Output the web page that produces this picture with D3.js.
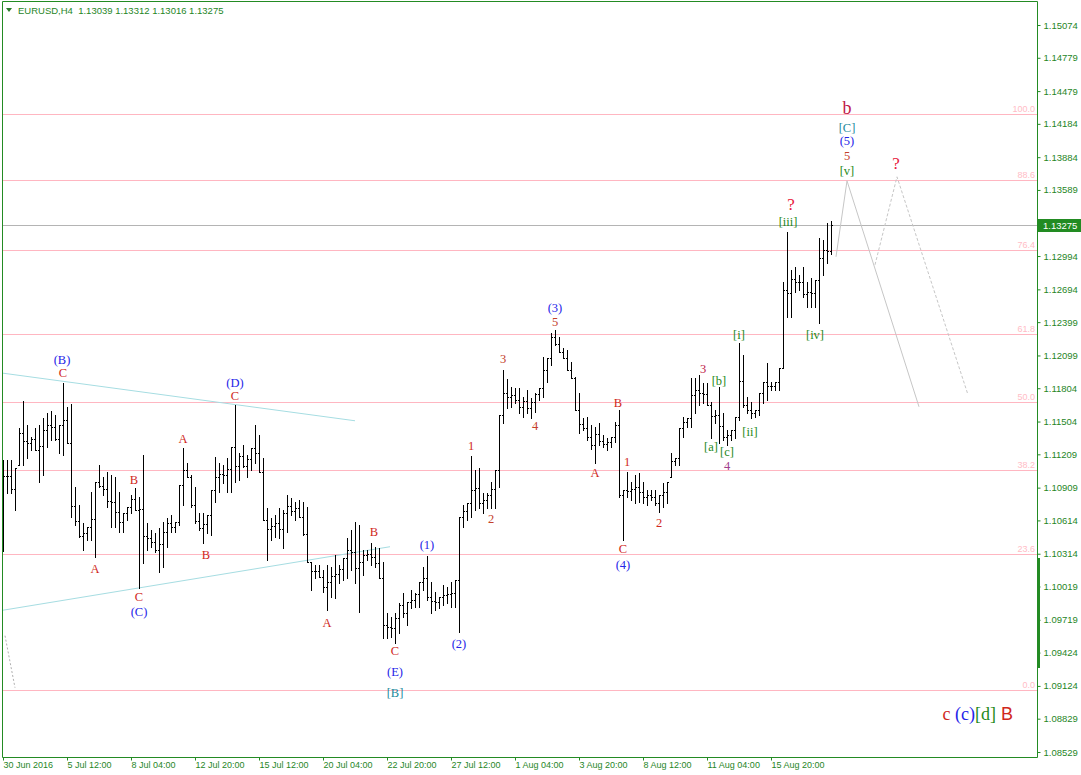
<!DOCTYPE html>
<html><head><meta charset="utf-8">
<script src="https://cdn.jsdelivr.net/npm/d3@7/dist/d3.min.js"></script>
<style>
html,body{margin:0;padding:0;background:#fff;}
svg{display:block;}
</style></head><body>
<svg id="c" width="1081" height="775"></svg>
<script>
const symbolTitle = "EURUSD,H4";
const lastQuote = [1.13039, 1.13312, 1.13016, 1.13275];

const opens = [1.10440,1.11016,1.11016,1.10899,1.11115,1.11403,1.11331,1.11313,1.11349,1.11250,1.11286,1.11430,1.11475,1.11457,1.11349,1.11475,1.11520,1.11313,1.10746,1.10611,1.10476,1.10503,1.10557,1.10629,1.10962,1.10926,1.10899,1.10791,1.10782,1.10692,1.10602,1.10683,1.10737,1.10809,1.10710,1.10719,1.10476,1.10458,1.10422,1.10350,1.10404,1.10512,1.10593,1.10557,1.10602,1.10935,1.11070,1.11007,1.10755,1.10611,1.10548,1.10584,1.10665,1.10890,1.11007,1.11034,1.11025,1.11079,1.11277,1.11106,1.11196,1.11106,1.11169,1.11268,1.11223,1.11052,1.10620,1.10539,1.10566,1.10593,1.10539,1.10683,1.10746,1.10701,1.10728,1.10647,1.10494,1.10242,1.10161,1.10161,1.10107,1.10017,1.10062,1.10116,1.10134,1.10179,1.10278,1.10350,1.10332,1.10188,1.10242,1.10305,1.10314,1.10287,1.10233,1.10098,1.09675,1.09657,1.09648,1.09738,1.09855,1.09783,1.09882,1.09900,1.09954,1.10062,1.10098,1.09927,1.09891,1.09882,1.09927,1.09945,1.09954,1.09963,1.10080,1.10647,1.10701,1.10773,1.10890,1.10908,1.10773,1.10800,1.10845,1.10899,1.11070,1.11565,1.11763,1.11727,1.11745,1.11700,1.11637,1.11691,1.11628,1.11682,1.11754,1.11808,1.11970,1.12078,1.12267,1.12204,1.12132,1.12078,1.11970,1.11898,1.11610,1.11484,1.11448,1.11367,1.11295,1.11394,1.11331,1.11304,1.11322,1.11367,1.11475,1.10845,1.10890,1.10881,1.10899,1.10917,1.10872,1.10827,1.10845,1.10827,1.10773,1.10845,1.10872,1.11007,1.11151,1.11178,1.11448,1.11502,1.11538,1.11745,1.11790,1.11763,1.11754,1.11655,1.11556,1.11565,1.11466,1.11367,1.11385,1.11430,1.11547,1.11871,1.11655,1.11610,1.11583,1.11610,1.11763,1.11862,1.11826,1.11826,1.11862,1.11988,1.12690,1.12663,1.12789,1.12762,1.12762,1.12654,1.12672,1.12663,1.12780,1.12978,1.13050,1.13039];
const highs = [1.11160,1.11160,1.11160,1.11088,1.11448,1.11691,1.11475,1.11367,1.11448,1.11475,1.11538,1.11583,1.11601,1.11565,1.11475,1.11853,1.11637,1.11664,1.10917,1.10755,1.10593,1.10557,1.10872,1.10962,1.11115,1.11007,1.11052,1.11025,1.11007,1.10872,1.10683,1.10737,1.10845,1.10908,1.10827,1.11205,1.10593,1.10530,1.10503,1.10548,1.10602,1.10638,1.10665,1.10602,1.10935,1.11268,1.11133,1.11025,1.10917,1.10683,1.10683,1.10665,1.10890,1.11187,1.11133,1.11115,1.11178,1.11277,1.11655,1.11223,1.11295,1.11205,1.11268,1.11475,1.11385,1.11178,1.10728,1.10638,1.10665,1.10728,1.10710,1.10845,1.10818,1.10782,1.10800,1.10782,1.10737,1.10242,1.10215,1.10215,1.10170,1.10215,1.10197,1.10305,1.10215,1.10278,1.10458,1.10530,1.10602,1.10575,1.10350,1.10350,1.10413,1.10377,1.10368,1.10242,1.09783,1.09747,1.09783,1.09873,1.09963,1.09882,1.09990,1.09963,1.10062,1.10197,1.10296,1.10062,1.09972,1.09927,1.10035,1.10017,1.10062,1.10080,1.10647,1.10755,1.10773,1.11196,1.11070,1.11088,1.10863,1.10863,1.10962,1.11070,1.11565,1.11970,1.11889,1.11817,1.11808,1.11808,1.11727,1.11790,1.11718,1.11763,1.11808,1.12087,1.12078,1.12303,1.12330,1.12267,1.12168,1.12150,1.12042,1.11907,1.11763,1.11538,1.11547,1.11475,1.11457,1.11493,1.11385,1.11358,1.11367,1.11502,1.11610,1.10890,1.11052,1.10962,1.11025,1.11043,1.10962,1.10890,1.10890,1.10890,1.10845,1.10953,1.10962,1.11223,1.11178,1.11448,1.11547,1.11538,1.11898,1.11898,1.11925,1.11853,1.11853,1.11682,1.11610,1.11817,1.11583,1.11430,1.11430,1.11547,1.12213,1.12105,1.11727,1.11682,1.11610,1.11763,1.11862,1.12033,1.11862,1.11862,1.11988,1.12762,1.13212,1.12870,1.12897,1.12825,1.12897,1.12762,1.12798,1.12780,1.13158,1.13140,1.13293,1.13312];
const lows = [1.10341,1.10863,1.10863,1.10710,1.11115,1.11115,1.11178,1.11250,1.11250,1.10962,1.11025,1.11277,1.11340,1.11340,1.11223,1.11205,1.11313,1.10647,1.10575,1.10467,1.10350,1.10440,1.10440,1.10287,1.10917,1.10845,1.10737,1.10557,1.10557,1.10512,1.10512,1.10620,1.10683,1.10710,1.10008,1.10233,1.10350,1.10377,1.10332,1.10152,1.10197,1.10377,1.10512,1.10512,1.10575,1.10755,1.11007,1.10737,1.10593,1.10530,1.10413,1.10503,1.10485,1.10782,1.10872,1.10953,1.10872,1.10872,1.10962,1.10980,1.11097,1.11007,1.11070,1.11133,1.11052,1.10620,1.10260,1.10440,1.10467,1.10458,1.10368,1.10512,1.10665,1.10620,1.10647,1.10485,1.10242,1.09990,1.10098,1.10107,1.09972,1.09810,1.09927,1.09918,1.10053,1.10080,1.10098,1.10170,1.10053,1.09792,1.10125,1.10260,1.10215,1.10197,1.10098,1.09558,1.09558,1.09567,1.09513,1.09603,1.09747,1.09675,1.09828,1.09837,1.09837,1.09990,1.09900,1.09783,1.09810,1.09828,1.09855,1.09873,1.09837,1.09837,1.09612,1.10557,1.10620,1.10647,1.10710,1.10728,1.10683,1.10728,1.10728,1.10728,1.10917,1.11493,1.11628,1.11637,1.11673,1.11583,1.11547,1.11583,1.11538,1.11592,1.11700,1.11727,1.11862,1.12015,1.12195,1.12132,1.12078,1.11970,1.11898,1.11610,1.11403,1.11430,1.11340,1.11259,1.11133,1.11295,1.11277,1.11250,1.11277,1.11322,1.10827,1.10440,1.10827,1.10800,1.10773,1.10782,1.10773,1.10755,1.10800,1.10755,1.10692,1.10737,1.10773,1.11007,1.11115,1.11115,1.11367,1.11457,1.11457,1.11583,1.11655,1.11673,1.11655,1.11358,1.11493,1.11313,1.11340,1.11295,1.11340,1.11358,1.11520,1.11637,1.11583,1.11538,1.11547,1.11565,1.11673,1.11700,1.11790,1.11790,1.11790,1.11988,1.12447,1.12447,1.12672,1.12690,1.12627,1.12537,1.12537,1.12537,1.12393,1.12825,1.12933,1.13016];
const closes = [1.11016,1.11016,1.10899,1.11088,1.11403,1.11331,1.11313,1.11349,1.11250,1.11286,1.11430,1.11475,1.11457,1.11349,1.11475,1.11520,1.11313,1.10746,1.10611,1.10476,1.10503,1.10557,1.10629,1.10962,1.10926,1.10899,1.10791,1.10782,1.10692,1.10602,1.10683,1.10737,1.10809,1.10710,1.10719,1.10476,1.10458,1.10422,1.10350,1.10404,1.10512,1.10593,1.10557,1.10602,1.10935,1.11070,1.11007,1.10755,1.10611,1.10548,1.10584,1.10665,1.10890,1.11007,1.11034,1.11025,1.11079,1.11277,1.11106,1.11196,1.11106,1.11169,1.11268,1.11223,1.11052,1.10620,1.10539,1.10566,1.10593,1.10539,1.10683,1.10746,1.10701,1.10728,1.10647,1.10494,1.10242,1.10161,1.10161,1.10107,1.10017,1.10062,1.10116,1.10134,1.10179,1.10278,1.10350,1.10332,1.10188,1.10242,1.10305,1.10314,1.10287,1.10233,1.10098,1.09675,1.09657,1.09648,1.09738,1.09855,1.09783,1.09882,1.09900,1.09954,1.10062,1.10098,1.09927,1.09891,1.09882,1.09927,1.09945,1.09954,1.09963,1.10080,1.10647,1.10701,1.10773,1.10890,1.10908,1.10773,1.10800,1.10845,1.10899,1.11070,1.11565,1.11763,1.11727,1.11745,1.11700,1.11637,1.11691,1.11628,1.11682,1.11754,1.11808,1.11970,1.12078,1.12267,1.12204,1.12132,1.12078,1.11970,1.11898,1.11610,1.11484,1.11448,1.11367,1.11295,1.11394,1.11331,1.11304,1.11322,1.11367,1.11475,1.10845,1.10890,1.10881,1.10899,1.10917,1.10872,1.10827,1.10845,1.10827,1.10773,1.10845,1.10872,1.10962,1.11151,1.11178,1.11448,1.11502,1.11538,1.11745,1.11790,1.11763,1.11754,1.11655,1.11556,1.11565,1.11466,1.11367,1.11385,1.11430,1.11547,1.11871,1.11655,1.11610,1.11583,1.11610,1.11763,1.11862,1.11826,1.11826,1.11862,1.11988,1.12690,1.12663,1.12789,1.12762,1.12762,1.12654,1.12672,1.12663,1.12780,1.12978,1.13050,1.13041,1.13275];

const timeTickBars = [0,16,32,48,64,80,96,112,128,144,160,176,192];
const timeTickLabels = ["30 Jun 2016","5 Jul 12:00","8 Jul 04:00","12 Jul 20:00","15 Jul 12:00","20 Jul 04:00","22 Jul 20:00","27 Jul 12:00","1 Aug 04:00","3 Aug 20:00","8 Aug 12:00","11 Aug 04:00","15 Aug 20:00"];
const priceTicks = [1.15074,1.14779,1.14479,1.14184,1.13884,1.13589,1.12994,1.12694,1.12399,1.12099,1.11804,1.11504,1.11209,1.10909,1.10614,1.10314,1.10019,1.09719,1.09424,1.09124,1.08829,1.08529];

const fibLevels = ["0.0","23.6","38.2","50.0","61.8","76.4","88.6","100.0"];
const fibPrices = [1.09090,1.10314,1.11070,1.11682,1.12294,1.13050,1.13680,1.14274];

// wave labels: [text, bar index, price, colour key, font size]
const waveLabels = [
 ["(B)",14.75,1.12060,"blue",12.5],["C",15,1.11943,"red",12.5],
 ["(D)",58,1.11853,"blue",12.5],["C",58,1.11736,"red",12.5],
 ["A",45,1.11349,"red",12.5],["B",32.75,1.10980,"red",12.5],["A",23,1.10179,"red",12.5],
 ["B",50.75,1.10305,"red",12.5],["C",34,1.09927,"red",12.5],["(C)",34,1.09792,"blue",12.5],
 ["A",81,1.09693,"red",12.5],["B",92.75,1.10512,"red",12.5],
 ["C",98,1.09441,"red",12.5],["(E)",98,1.09252,"blue",12.5],["[B]",98,1.09063,"teal",12.5],
 ["(1)",106,1.10395,"blue",12.5],["(2)",114,1.09504,"blue",12.5],
 ["1",117,1.11286,"red",12.5],["2",122,1.10629,"brown",12.5],["3",125,1.12069,"brown",12.5],["4",133,1.11466,"brown",12.5],
 ["(3)",138,1.12528,"blue",12.5],["5",138,1.12402,"brown",12.5],
 ["B",153.75,1.11673,"red",12.5],["A",148,1.11043,"red",12.5],["1",156,1.11142,"red",12.5],
 ["C",155,1.10359,"red",12.5],["(4)",155,1.10215,"blue",12.5],["2",164,1.10593,"red",12.5],
 ["3",175,1.11979,"crimson",12.5],["[b]",179,1.11871,"green",12.5],["[a]",177,1.11277,"green",12.5],
 ["[c]",181,1.11232,"green",12.5],["4",181,1.11106,"purple",12.5],["[ii]",186.75,1.11412,"green",12.5],
 ["[i]",184,1.12285,"green",12.5],["[iii]",196.25,1.13302,"green",12.5],["?",197,1.13455,"q",17],
 ["[iv]",203,1.12285,"green",12.5],
 ["b",211,1.14328,"crimson",18],
 ["[C]",211,1.14148,"teal",12.5],["(5)",211,1.14031,"blue",12.5],["5",211,1.13896,"brown",12.5],["[v]",211,1.13761,"green",12.5],
 ["?",223.25,1.13824,"q",17]
];
const legendParts = [["c","red"],[" (c)","blue"],["[d]","green"],[" B","red"]];

// projection paths [bar, price]
const projSolid = [[208.25,1.12987],[211,1.13671],[229,1.11637]];
const projDashed = [[218,1.12915],[223.5,1.13707],[241.25,1.11745]];
const channelUpper = [[-0.75,1.11943],[88,1.11511]];
const channelLower = [[-0.75,1.09801],[96.75,1.10377]];
const oldDashed = [[0.5,1.09576],[3,1.09108]];
const axisMarker = [1.10278,1.09288];

const colours = {red:"#d0281c",brown:"#c4402a",blue:"#2424e8",green:"#1f8a1a",teal:"#1c8a9c",crimson:"#c01848",q:"#e8183c",purple:"#a0408c"};

const L=2, R=1037, T=1, B=757;
const x = d3.scaleLinear().domain([0,207]).range([3,831]);
const y = d3.scaleLinear().domain([1.08529,1.15074]).range([752,25]);
const py = p => Math.round(y(p));
const svg = d3.select("#c");
const axisGreen = "#238b23", textGreen = "#1f861f";

svg.append("defs").append("clipPath").attr("id","clip")
  .append("rect").attr("x",L+1).attr("y",T+1).attr("width",R-L-1).attr("height",B-T-1);
const g = svg.append("g").attr("clip-path","url(#clip)");

// fibonacci levels
fibPrices.forEach((p,i)=>{
  const yy = py(p)+0.5;
  g.append("line").attr("x1",L).attr("x2",R).attr("y1",yy).attr("y2",yy)
    .attr("stroke","#ffb6c1").attr("stroke-width",1);
  g.append("text").attr("x",R-2).attr("y",yy-2.5).attr("text-anchor","end")
    .attr("font-family","Liberation Sans, Arial, sans-serif").attr("font-size",9)
    .attr("fill","#ffbcc6").text(fibLevels[i]);
});

// current price line
g.append("line").attr("x1",L).attr("x2",R).attr("y1",py(lastQuote[3])+0.5).attr("y2",py(lastQuote[3])+0.5)
  .attr("stroke","#b4b4b4");

const line = d3.line().x(d=>x(d[0])).y(d=>y(d[1]));
g.append("path").attr("d",line(channelUpper)).attr("fill","none").attr("stroke","#a6dde2");
g.append("path").attr("d",line(channelLower)).attr("fill","none").attr("stroke","#a6dde2");
g.append("path").attr("d",line(oldDashed)).attr("fill","none").attr("stroke","#b0b0b0").attr("stroke-dasharray","2,2");
g.append("path").attr("d",line(projSolid)).attr("fill","none").attr("stroke","#c6c6c6");
g.append("path").attr("d",line(projDashed)).attr("fill","none").attr("stroke","#c6c6c6").attr("stroke-dasharray","3,2");

// OHLC bars
const idx = d3.range(opens.length);
const bars = g.append("g").attr("shape-rendering","crispEdges").attr("fill","#000");
bars.selectAll("rect.v").data(idx).join("rect").attr("class","v")
  .attr("x",i=>Math.round(x(i))).attr("y",i=>py(highs[i]))
  .attr("width",1).attr("height",i=>py(lows[i])-py(highs[i])+1);
bars.selectAll("rect.o").data(idx).join("rect").attr("class","o")
  .attr("x",i=>Math.round(x(i))-1).attr("y",i=>py(opens[i])).attr("width",1).attr("height",1);
bars.selectAll("rect.c").data(idx).join("rect").attr("class","c")
  .attr("x",i=>Math.round(x(i))+1).attr("y",i=>py(closes[i])).attr("width",1).attr("height",1);

// wave labels
g.selectAll("text.w").data(waveLabels).join("text").attr("class","w")
  .attr("x",d=>x(d[1])).attr("y",d=>y(d[2])).attr("text-anchor","middle").attr("dominant-baseline","central")
  .attr("font-family","Liberation Serif, Times New Roman, serif").attr("font-size",d=>d[4])
  .attr("fill",d=>colours[d[3]]).text(d=>d[0]);

// legend bottom right
const lt = svg.append("text").attr("x",1013).attr("y",720).attr("text-anchor","end")
  .attr("font-family","Liberation Serif, Times New Roman, serif").attr("font-size",18)
  .style("white-space","pre");
legendParts.forEach(p=>lt.append("tspan").attr("fill",colours[p[1]]).text(p[0]));
lt.selectAll("tspan").filter((d,i)=>i===3).attr("font-family","Liberation Sans, Arial, sans-serif");

// frame
svg.append("path").attr("d",`M${L+0.5},${T+0.5}H${R+0.5}V${B+0.5}H${L+0.5}Z`).attr("fill","none").attr("stroke",axisGreen);

// right axis
const ay = svg.append("g").attr("transform",`translate(${R+0.5},0)`)
  .call(d3.axisRight(y).tickValues(priceTicks).tickSize(3).tickPadding(3).tickFormat(d3.format(".5f")));
ay.select(".domain").remove();
ay.selectAll(".tick line").attr("stroke",axisGreen);
ay.selectAll(".tick text").attr("fill",textGreen).attr("font-family","Liberation Sans, Arial, sans-serif").attr("font-size",9.5);

// axis marker
svg.append("rect").attr("x",R).attr("y",py(axisMarker[0])).attr("width",3).attr("height",py(axisMarker[1])-py(axisMarker[0])).attr("fill",axisGreen);

// current price box
const cy = py(lastQuote[3]);
svg.append("rect").attr("x",R).attr("y",cy-6).attr("width",44).attr("height",13).attr("fill","#228b22");
svg.append("text").attr("x",R+6).attr("y",cy).attr("dominant-baseline","central")
  .attr("font-family","Liberation Sans, Arial, sans-serif").attr("font-size",9.5).attr("fill","#fff")
  .text(d3.format(".5f")(lastQuote[3]));

// bottom axis
const ax = svg.append("g").attr("transform",`translate(0,${B+0.5})`)
  .call(d3.axisBottom(x).tickValues(timeTickBars).tickSize(3).tickFormat((d,i)=>timeTickLabels[i]));
ax.select(".domain").remove();
ax.selectAll(".tick line").attr("stroke",axisGreen);
ax.selectAll(".tick text").attr("text-anchor","start").attr("x",0).attr("y",4)
  .attr("fill",textGreen).attr("font-family","Liberation Sans, Arial, sans-serif").attr("font-size",9);

// header
svg.append("path").attr("d","M6,8L12,8L9,12Z").attr("fill","#2a7a2a");
svg.append("text").attr("x",18).attr("y",14).style("white-space","pre")
  .attr("font-family","Liberation Sans, Arial, sans-serif").attr("font-size",9.5).attr("fill",textGreen)
  .text(symbolTitle + "  " + lastQuote.map(d3.format(".5f")).join(" "));
</script>
</body></html>
